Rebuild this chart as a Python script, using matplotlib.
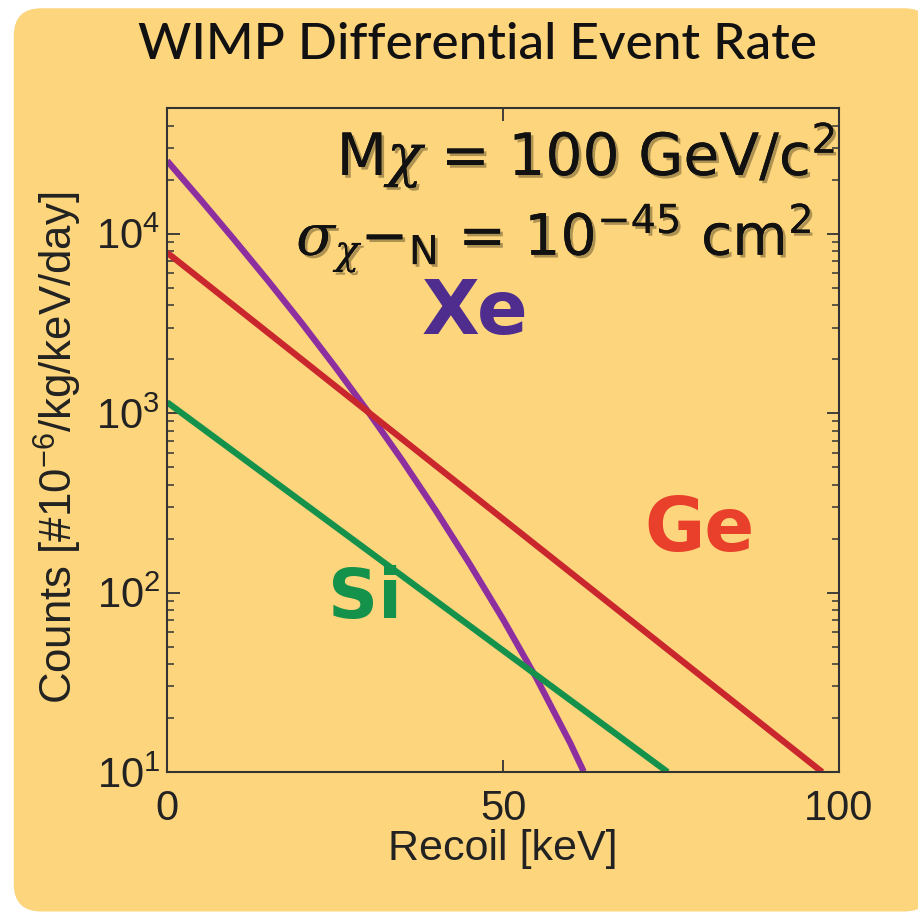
import math
import matplotlib.pyplot as plt
from matplotlib.patches import FancyBboxPatch
from matplotlib.ticker import FuncFormatter
import matplotlib.patheffects as pe

# recoil energy [keV] and rate [#1e-6/kg/keV/day]
xe_recoil = [0, 5, 10, 15, 20, 25, 30, 35, 40, 45, 50, 55, 60, 62]
xe_rate = [25470, 15440, 9250, 5480, 3190, 1814, 1008, 545, 286, 145, 71.0, 33.2, 14.5, 10.07]
ge_recoil = [0, 97.5]
ge_rate = [7840, 10]
si_recoil = [0, 74.5]
si_rate = [1150, 10]

bg = '#fdd57c'
plt.rcParams['mathtext.fontset'] = 'custom'
plt.rcParams['mathtext.rm'] = 'DejaVu Sans'
plt.rcParams['mathtext.it'] = 'DejaVu Serif:italic'

fig = plt.figure(figsize=(9.18, 9.17), dpi=100)
fig.patch.set_facecolor('white')
box = FancyBboxPatch((0.015, 0.006), 1.0, 0.985, boxstyle='round,pad=0,rounding_size=0.03',
                     transform=fig.transFigure, facecolor=bg, edgecolor='none', zorder=-10)
fig.patches.append(box)

fig.text(0.52, 0.951, 'WIMP Differential Event Rate', ha='center', va='center',
         fontsize=37, family='Lato', weight='medium', color='#111111')

ax = fig.add_axes([0.182, 0.158, 0.732, 0.724])
ax.set_facecolor(bg)
ax.plot(xe_recoil, xe_rate, color='#8e2fa0', lw=4.5, solid_capstyle='butt')
ax.plot(ge_recoil, ge_rate, color='#c9272d', lw=4.5, solid_capstyle='butt')
ax.plot(si_recoil, si_rate, color='#14914a', lw=4.5, solid_capstyle='butt')
ax.set_yscale('log')
ax.set_xlim(0, 100)
ax.set_ylim(10, 5e4)
ax.set_xticks([0, 50, 100])
ax.yaxis.set_major_formatter(FuncFormatter(lambda v, p: r'$\mathregular{10^{%d}}$' % round(math.log10(v))))

tick_font = 'Liberation Sans'
ax.tick_params(which='both', direction='in', top=True, right=True, color='#333333')
ax.tick_params(which='major', length=9, width=1.3, labelsize=30, labelcolor='#222222')
ax.tick_params(axis='x', which='major', pad=12)
ax.tick_params(axis='y', which='major', pad=5)
ax.tick_params(which='minor', length=5, width=1.1)
for lab in ax.get_xticklabels() + ax.get_yticklabels():
    lab.set_family(tick_font)
for s in ax.spines.values():
    s.set_color('#333333')
    s.set_linewidth(1.5)

ax.set_xlabel('Recoil [keV]', fontsize=31, family=tick_font, color='#222222', labelpad=0)
ax.set_ylabel(r'Counts [#10$\mathregular{^{-6}}$/kg/keV/day]', fontsize=31.5, family=tick_font,
              color='#222222')
ax.yaxis.set_label_coords(-0.123, 0.489)

shadow = [pe.withSimplePatchShadow(offset=(2, -2), shadow_rgbFace='#6e5c30', alpha=0.55), pe.Normal()]
ax.text(0.995, 0.929, r'M$\chi$ = 100 GeV/c$\mathregular{^2}$', transform=ax.transAxes,
        ha='right', va='center', fontsize=42, family='DejaVu Sans', color='#111111', path_effects=shadow)
ax.text(0.96, 0.804, r'$\sigma_{\chi}\mathregular{-_N}$ = 10$\mathregular{^{-45}}$ cm$\mathregular{^2}$',
        transform=ax.transAxes, ha='right', va='center',
        fontsize=41, family='DejaVu Sans', color='#111111', path_effects=shadow)

ax.text(45.8, 3600, 'Xe', ha='center', va='center', fontsize=54, weight='bold', color='#4f2d8f')
ax.text(79.2, 221, 'Ge', ha='center', va='center', fontsize=53, weight='bold', color='#e8402a')
ax.text(29.4, 92.6, 'Si', ha='center', va='center', fontsize=50, weight='bold', color='#14914a')

fig.savefig('out.png', dpi=100)
